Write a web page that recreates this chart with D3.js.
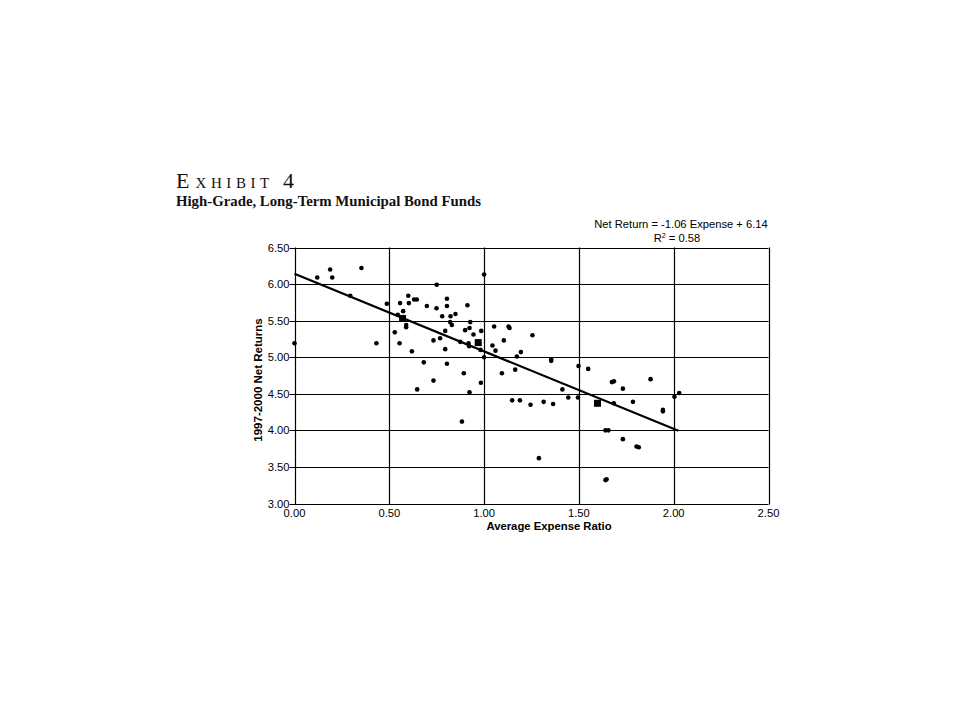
<!DOCTYPE html>
<html>
<head>
<meta charset="utf-8">
<script src="https://cdn.jsdelivr.net/npm/d3@7"></script>
<style>
  body { margin: 0; background: #fff; }
  svg { display: block; }
</style>
</head>
<body>
<svg id="chart" width="960" height="720"></svg>
<script>
// ---- data ----
const expense = [0.00,0.12,0.188,0.199,0.353,0.294,0.432,0.487,0.557,0.600,0.603,0.631,0.645,0.698,0.545,0.573,0.589,0.589,0.529,0.554,0.619,0.682,1.00,0.750,0.749,0.804,0.804,0.912,0.779,0.823,0.849,0.821,0.830,0.927,0.900,0.923,0.795,0.985,0.944,1.053,1.129,1.134,1.255,0.768,0.733,0.874,0.918,0.921,0.981,1.044,1.060,1.104,0.795,1.00,1.173,1.194,1.354,1.354,1.498,0.804,0.893,1.094,1.164,0.733,0.647,0.983,0.923,1.413,1.444,1.495,1.148,1.189,1.245,1.314,1.364,0.883,1.289,1.549,1.674,1.685,1.732,1.878,1.684,1.785,1.943,1.943,2.004,2.029,1.640,1.656,1.732,1.804,1.816,1.640,1.646];
const netReturn = [5.19,6.09,6.20,6.09,6.22,5.84,5.19,5.73,5.74,5.84,5.74,5.79,5.79,5.70,5.58,5.63,5.44,5.41,5.34,5.19,5.08,4.93,6.13,5.99,5.67,5.80,5.70,5.71,5.56,5.56,5.59,5.48,5.44,5.48,5.37,5.40,5.36,5.36,5.31,5.42,5.42,5.40,5.30,5.26,5.23,5.21,5.19,5.15,5.10,5.16,5.09,5.23,5.11,5.00,5.01,5.07,4.97,4.95,4.88,4.91,4.78,4.78,4.83,4.68,4.56,4.65,4.52,4.56,4.45,4.45,4.41,4.41,4.35,4.39,4.36,4.12,3.62,4.84,4.66,4.67,4.57,4.70,4.37,4.39,4.28,4.26,4.46,4.51,4.00,4.00,3.88,3.78,3.77,3.32,3.33];
const meanExpense = [0.570, 0.969, 1.598];
const meanReturn = [5.53, 5.20, 4.37];
const slope = -1.06, intercept = 6.14;
const fitRange = [0.00, 2.025];
const xTicks = [0, 0.5, 1.0, 1.5, 2.0, 2.5];
const yTicks = [3.0, 3.5, 4.0, 4.5, 5.0, 5.5, 6.0, 6.5];
const titleWord = "XHIBIT";
const subtitle = "High-Grade, Long-Term Municipal Bond Funds";
const equationText = "Net Return = -1.06 Expense + 6.14";
const xTitle = "Average Expense Ratio";
const yTitle = "1997-2000 Net Returns";

// ---- layout ----
const svg = d3.select("#chart");
const x = d3.scaleLinear().domain([0, 2.5]).range([294.5, 768.5]);
const y = d3.scaleLinear().domain([3.0, 6.5]).range([503.5, 247.5]);
const sans = "'Liberation Sans', Arial, sans-serif";
const serif = "'Liberation Serif', 'Times New Roman', serif";

// title
const t = svg.append("text").attr("x", 176).attr("y", 188)
  .attr("font-family", serif).attr("fill", "#111");
t.append("tspan").attr("font-size", 22).text("E");
t.append("tspan").attr("font-size", 15).attr("dx", 6).attr("letter-spacing", 4.6).text(titleWord);
t.append("tspan").attr("font-size", 22).attr("dx", 9).text("4");

svg.append("text").attr("x", 176).attr("y", 206)
  .attr("font-family", serif).attr("font-weight", "bold").attr("font-size", 14.8)
  .attr("fill", "#111").text(subtitle);

// equation
svg.append("text").attr("x", 681).attr("y", 228).attr("text-anchor", "middle")
  .attr("font-family", sans).attr("font-size", 11.2).attr("fill", "#000").text(equationText);
const r2 = svg.append("text").attr("x", 677).attr("y", 242).attr("text-anchor", "middle")
  .attr("font-family", sans).attr("font-size", 11.2).attr("fill", "#000");
r2.append("tspan").text("R");
r2.append("tspan").attr("font-size", 7).attr("dy", -4).text("2");
r2.append("tspan").attr("dy", 4).text(" = 0.58");

// grid
const g = svg.append("g");
g.selectAll("line.h").data(yTicks).join("line")
  .attr("x1", x(0) - 5).attr("x2", x(2.5))
  .attr("y1", d => Math.round(y(d)) + 0.5).attr("y2", d => Math.round(y(d)) + 0.5)
  .attr("stroke", "#000").attr("stroke-width", 1.2);
g.selectAll("line.v").data(xTicks).join("line")
  .attr("x1", d => Math.round(x(d)) + 0.5).attr("x2", d => Math.round(x(d)) + 0.5)
  .attr("y1", y(6.5)).attr("y2", y(3.0) + 1)
  .attr("stroke", "#000").attr("stroke-width", 1.2);

// tick labels
g.selectAll("text.yl").data(yTicks).join("text")
  .attr("x", x(0) - 5).attr("y", d => y(d) + 4).attr("text-anchor", "end")
  .attr("font-family", sans).attr("font-size", 11.2).text(d => d3.format(".2f")(d));
g.selectAll("text.xl").data(xTicks).join("text")
  .attr("x", d => x(d)).attr("y", y(3.0) + 13.5).attr("text-anchor", "middle")
  .attr("font-family", sans).attr("font-size", 11.2).text(d => d3.format(".2f")(d));

// axis titles
svg.append("text").attr("x", 549).attr("y", 530).attr("text-anchor", "middle")
  .attr("font-family", sans).attr("font-weight", "bold").attr("font-size", 11.3).text(xTitle);
svg.append("text").attr("transform", "translate(262,380) rotate(-90)").attr("text-anchor", "middle")
  .attr("font-family", sans).attr("font-weight", "bold").attr("font-size", 11.5).text(yTitle);

// regression line
svg.append("line")
  .attr("x1", x(fitRange[0])).attr("y1", y(intercept + slope * fitRange[0]))
  .attr("x2", x(fitRange[1])).attr("y2", y(intercept + slope * fitRange[1]))
  .attr("stroke", "#000").attr("stroke-width", 2.2);

// points
svg.append("g").selectAll("circle").data(d3.range(expense.length)).join("circle")
  .attr("cx", i => x(expense[i])).attr("cy", i => y(netReturn[i]))
  .attr("r", 2.3).attr("fill", "#000");

// means
svg.append("g").selectAll("rect").data(d3.range(meanExpense.length)).join("rect")
  .attr("x", i => x(meanExpense[i]) - 3.5).attr("y", i => y(meanReturn[i]) - 3.5)
  .attr("width", 7).attr("height", 7).attr("fill", "#000");
</script>
</body>
</html>
